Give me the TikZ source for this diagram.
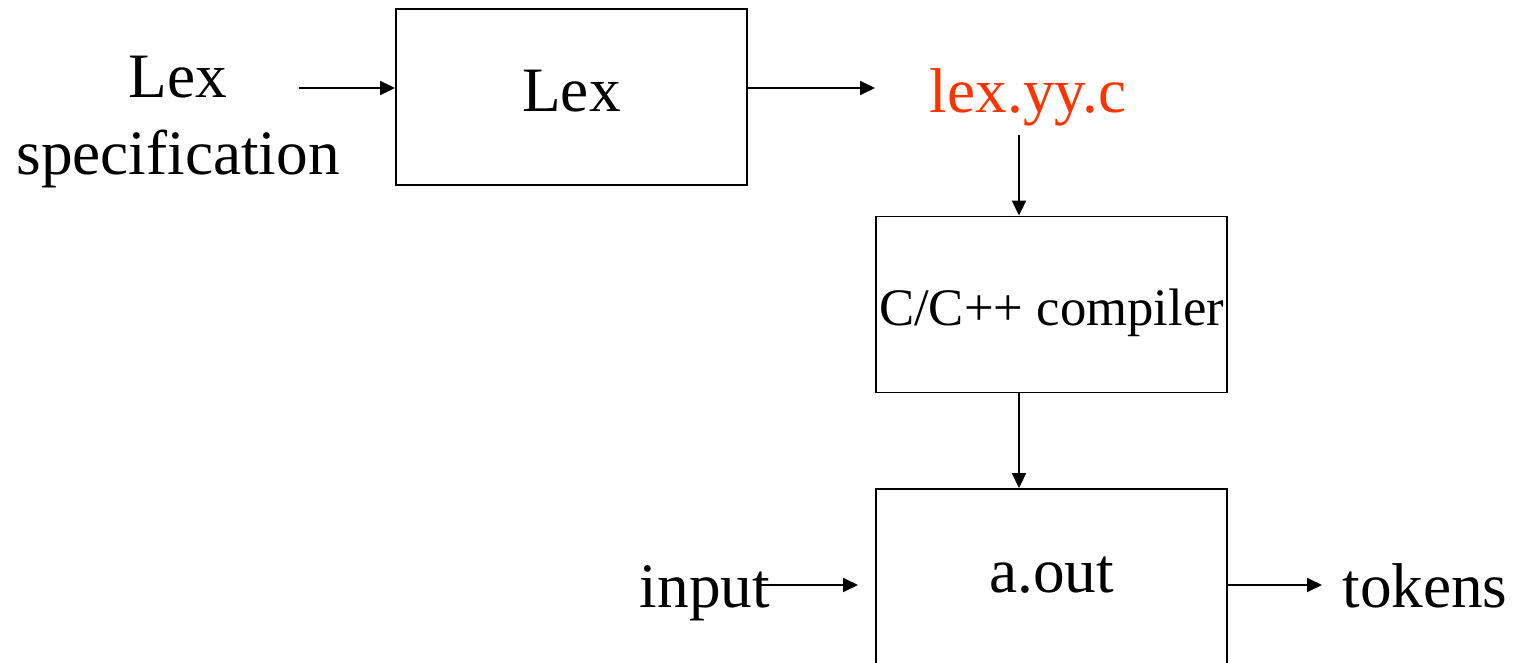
\documentclass[tikz,border=0pt]{standalone}
\usepackage{fontspec}
\setmainfont{Liberation Serif}
\usetikzlibrary{arrows.meta,positioning}
\definecolor{yyred}{RGB}{255,51,0}

\begin{document}
\begin{tikzpicture}[
  x=0.02cm, y=-0.02cm,
  stage/.style={rectangle, draw, line width=1.1pt, minimum width=7.02cm, minimum height=3.52cm, inner sep=0pt},
  big/.style={font=\fontsize{36}{44}\selectfont},
  pipe/.style={draw, line width=1.1pt, -{Triangle[length=0.3cm,width=0.28cm]}},
]
\useasboundingbox (0,0) rectangle (1516,663);

\node[big, align=center] (spec) at (178,122) {Lex\\specification};
\node[stage, big, text height=0.6cm, text depth=0pt] (lex) at (571.5,97) {Lex};
\node[big, text=yyred, anchor=base] (yyc) at (1028,112) {lex.yy.c};
\node[stage, font=\fontsize{30}{36}\selectfont, text height=0.82cm, text depth=0pt] (cc) at (1051.5,304.5) {C/C++ compiler};
\node[stage, big, text height=0.6cm, text depth=0pt] (aout) at (1051.5,577) {a.out};
\node[big, anchor=base] (in) at (705,607) {input};
\node[big, anchor=base] (tok) at (1425,607) {tokens};

% free ends
\coordinate (specout) at (299,88);
\coordinate (yycin) at (875,88);
\coordinate (yycout) at (1019,135);
\coordinate (inout) at (760,585);
\coordinate (aoutin) at (858,585);
\coordinate (tokin) at (1322,585);

\draw[pipe] (specout) -- ([yshift=0.18cm]lex.west);
\draw[pipe] ([yshift=0.18cm]lex.east) -- (yycin);
\draw[pipe] (yycout) -- ([xshift=-0.65cm]cc.north);
\draw[pipe] ([xshift=-0.65cm]cc.south) -- ([xshift=-0.65cm]aout.north);
\draw[pipe] (inout) -- (aoutin);
\draw[pipe] ([yshift=-0.16cm]aout.east) -- (tokin);
\end{tikzpicture}
\end{document}
